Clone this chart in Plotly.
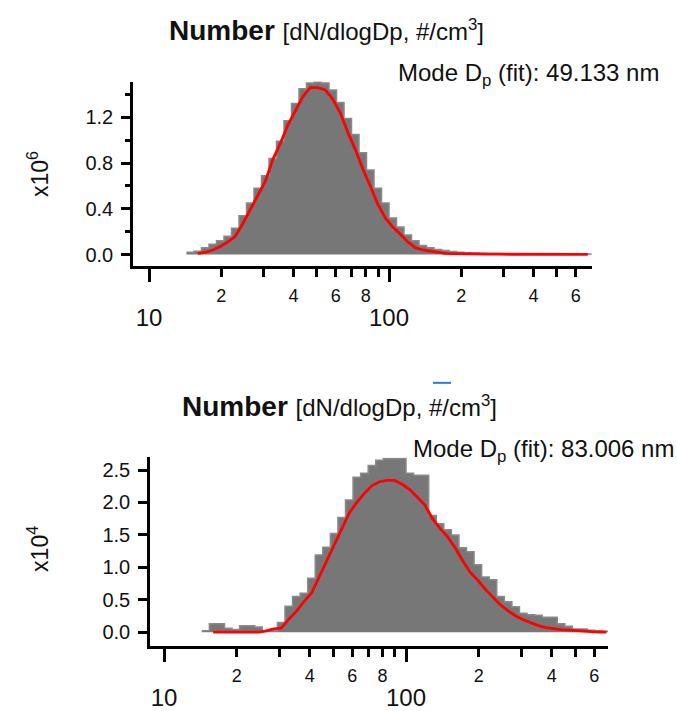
import plotly.graph_objects as go

# Bin edges (nm), shared by both size distributions
bin_edges_nm = [14.330, 15.399, 16.548, 17.783, 19.110, 20.535, 22.067, 23.714, 25.483, 27.384,
                29.427, 31.623, 33.982, 36.517, 39.242, 42.170, 45.316, 48.697, 52.330, 56.234,
                60.430, 64.938, 69.783, 74.989, 80.584, 86.596, 93.057, 100.00, 107.46, 115.48,
                124.09, 133.35, 143.30, 153.99, 165.48, 177.83, 191.10, 205.35, 220.67, 237.14,
                254.83, 273.84, 294.27, 316.23, 339.82, 365.17, 392.42, 421.70, 453.16, 486.97,
                523.30, 562.34, 604.30, 649.38, 697.83]

# Top panel (x10^6)
top_measured = [0.02, 0.03, 0.06, 0.09, 0.12, 0.16, 0.23, 0.34, 0.45, 0.58,
                0.69, 0.84, 0.99, 1.17, 1.32, 1.45, 1.50, 1.51, 1.50, 1.44,
                1.33, 1.19, 1.05, 0.89, 0.74, 0.58, 0.45, 0.32, 0.24, 0.17,
                0.12, 0.08, 0.06, 0.045, 0.035, 0.027, 0.02, 0.016, 0.013, 0.011,
                0.010, 0.009, 0.008, 0.008, 0.007, 0.007, 0.006, 0.006, 0.005, 0.005,
                0.005, 0.004, 0.004, 0.004]
top_fit = [None, 0.01, 0.02, 0.04, 0.07, 0.11, 0.16, 0.27, 0.39, 0.52,
           0.64, 0.83, 0.97, 1.13, 1.25, 1.38, 1.46, 1.46, 1.44, 1.36,
           1.24, 1.07, 0.92, 0.75, 0.60, 0.44, 0.32, 0.24, 0.18, 0.11,
           0.06, 0.04, 0.03, 0.02, 0.01, 0.008, 0.006, 0.005, 0.004, 0.004,
           0.003, 0.003, 0.003, 0.002, 0.002, 0.002, 0.002, 0.002, 0.001, 0.001,
           0.001, 0.001, 0.001, 0.001]

# Bottom panel (x10^4)
bot_measured = [0.02, 0.13, 0.13, 0.06, 0.04, 0.10, 0.10, 0.08, 0.02, 0.02,
                0.15, 0.40, 0.55, 0.60, 0.83, 1.19, 1.31, 1.52, 1.77, 2.04,
                2.39, 2.45, 2.57, 2.65, 2.68, 2.68, 2.68, 2.45, 2.42, 2.42,
                1.80, 1.67, 1.58, 1.50, 1.30, 1.24, 1.04, 0.85, 0.81, 0.55,
                0.47, 0.39, 0.29, 0.27, 0.26, 0.23, 0.23, 0.13, 0.09, 0.05,
                0.05, 0.03, 0.02, 0.015]
bot_fit = [None, 0.0, 0.0, 0.0, 0.0, 0.0, 0.0, 0.0, 0.02, 0.05,
           0.06, 0.20, 0.32, 0.47, 0.60, 0.85, 1.10, 1.35, 1.60, 1.84,
           2.00, 2.14, 2.26, 2.32, 2.34, 2.34, 2.28, 2.20, 2.08, 1.96,
           1.75, 1.60, 1.47, 1.30, 1.10, 0.92, 0.80, 0.66, 0.54, 0.42,
           0.33, 0.25, 0.19, 0.14, 0.10, 0.07, 0.05, 0.04, 0.03, 0.02,
           0.015, 0.01, 0.0, 0.0]

label_tick_vals = [20, 40, 60, 80, 200, 400, 600]
label_tick_text = ["2", "4", "6", "8", "2", "4", "6"]
unlabeled_tick_vals = [30, 50, 70, 90, 300, 500]
major_tick_vals = [10, 100]
major_tick_text = ["10", "100"]

top_y_ticks = [0.0, 0.4, 0.8, 1.2]
top_y_text = ["0.0", "0.4", "0.8", "1.2"]
bot_y_ticks = [0.0, 0.5, 1.0, 1.5, 2.0, 2.5]
bot_y_text = ["0.0", "0.5", "1.0", "1.5", "2.0", "2.5"]

centers = [(a * b) ** 0.5 for a, b in zip(bin_edges_nm[:-1], bin_edges_nm[1:])]

W, H = 677, 711
FONT = "Liberation Sans"
GRAY = "#777777"
RED = "#ff0000"
TXT = "#111111"

fig = go.Figure()


def add_panel(meas, fit, xa, ya, xa_major):
    fig.add_trace(go.Scatter(
        x=bin_edges_nm, y=meas + [meas[-1]], mode="lines", line_shape="hv",
        line=dict(color="#8a8a8a", width=1.5), fill="tozeroy", fillcolor=GRAY,
        xaxis=xa, yaxis=ya, hoverinfo="skip", showlegend=False))
    fig.add_trace(go.Scatter(
        x=centers, y=fit, mode="lines", line=dict(color=RED, width=2.8),
        xaxis=xa, yaxis=ya, hoverinfo="skip", showlegend=False, connectgaps=False))
    fig.add_trace(go.Scatter(
        x=[10], y=[0], mode="markers", marker=dict(opacity=0),
        xaxis=xa_major, yaxis=ya, hoverinfo="skip", showlegend=False))


add_panel(top_measured, top_fit, "x", "y", "x3")
add_panel(bot_measured, bot_fit, "x2", "y2", "x4")

common_x = dict(type="log", showgrid=False, zeroline=False, showline=True,
                linecolor="black", linewidth=2.5, ticks="outside", tickcolor="black",
                tickwidth=2.5, mirror=False)
minor_x = dict(common_x, tickvals=label_tick_vals, ticktext=label_tick_text, ticklen=8,
               tickfont=dict(family=FONT, size=18, color=TXT), ticklabelstandoff=3,
               minor=dict(tickmode="array", tickvals=unlabeled_tick_vals, ticks="outside",
                          ticklen=8, tickwidth=2.5, tickcolor="black", showgrid=False))
major_x = dict(common_x, tickvals=major_tick_vals, ticktext=major_tick_text, ticklen=15,
               showline=False, tickfont=dict(family=FONT, size=24, color=TXT),
               ticklabelstandoff=15)

px = lambda v: v / W
py = lambda v: 1 - v / H

top_xdom = [px(133), px(592)]
top_ydom = [py(268), py(82)]
bot_xdom = [px(150), px(608)]
bot_ydom = [py(650), py(460)]
top_xrange = [0.9333, 2.8458]
bot_xrange = [0.94215, 2.8347]

common_y = dict(showgrid=False, zeroline=False, showline=True, linecolor="black",
                linewidth=2.5, ticks="outside", tickcolor="black", tickwidth=2.5,
                ticklen=9, tickfont=dict(family=FONT, size=20, color=TXT),
                ticklabelstandoff=4)

fig.update_layout(
    width=W, height=H, margin=dict(l=0, r=0, t=0, b=0),
    paper_bgcolor="white", plot_bgcolor="white",
    xaxis=dict(minor_x, domain=top_xdom, range=top_xrange, anchor="y"),
    xaxis3=dict(major_x, domain=top_xdom, range=top_xrange, anchor="y", overlaying="x"),
    yaxis=dict(common_y, domain=top_ydom, range=[-0.1043, 1.513], anchor="x",
               tickvals=top_y_ticks, ticktext=top_y_text,
               minor=dict(dtick=0.2, tick0=0, ticks="outside", ticklen=5,
                          tickwidth=2.5, tickcolor="black", showgrid=False)),
    xaxis2=dict(minor_x, domain=bot_xdom, range=bot_xrange, anchor="y2"),
    xaxis4=dict(major_x, domain=bot_xdom, range=bot_xrange, anchor="y2", overlaying="x2"),
    yaxis2=dict(common_y, domain=bot_ydom, range=[-0.219, 2.695], anchor="x2",
                tickvals=bot_y_ticks, ticktext=bot_y_text),
)

title_html = ("<b>Number</b> <span style='font-size:24px'>[dN/dlogDp, #/cm<sup>3</sup>]</span>")
ann = [
    dict(text=title_html, x=px(326), y=py(31), font=dict(family=FONT, size=28, color=TXT)),
    dict(text="Mode D<sub>p</sub> (fit): 49.133 nm", x=px(661), y=py(75), xanchor="right",
         font=dict(family=FONT, size=24, color=TXT)),
    dict(text=title_html, x=px(339), y=py(409), font=dict(family=FONT, size=28, color=TXT)),
    dict(text="Mode D<sub>p</sub> (fit): 83.006 nm", x=px(676), y=py(453), xanchor="right",
         font=dict(family=FONT, size=24, color=TXT)),
    dict(text="x10<sup>6</sup>", x=px(38), y=py(175), textangle=-90,
         font=dict(family=FONT, size=23, color=TXT)),
    dict(text="x10<sup>4</sup>", x=px(38), y=py(552), textangle=-90,
         font=dict(family=FONT, size=23, color=TXT)),
]
for a in ann:
    a.setdefault("xanchor", "center")
    fig.add_annotation(xref="paper", yref="paper", showarrow=False, yanchor="middle", **a)

fig.add_shape(type="line", xref="paper", yref="paper", x0=px(433), x1=px(451),
              y0=py(385), y1=py(385), line=dict(color="#2a7bd5", width=2))

fig.write_html("out.html", config={"displayModeBar": False},
               post_script="document.body.style.margin='0';")
